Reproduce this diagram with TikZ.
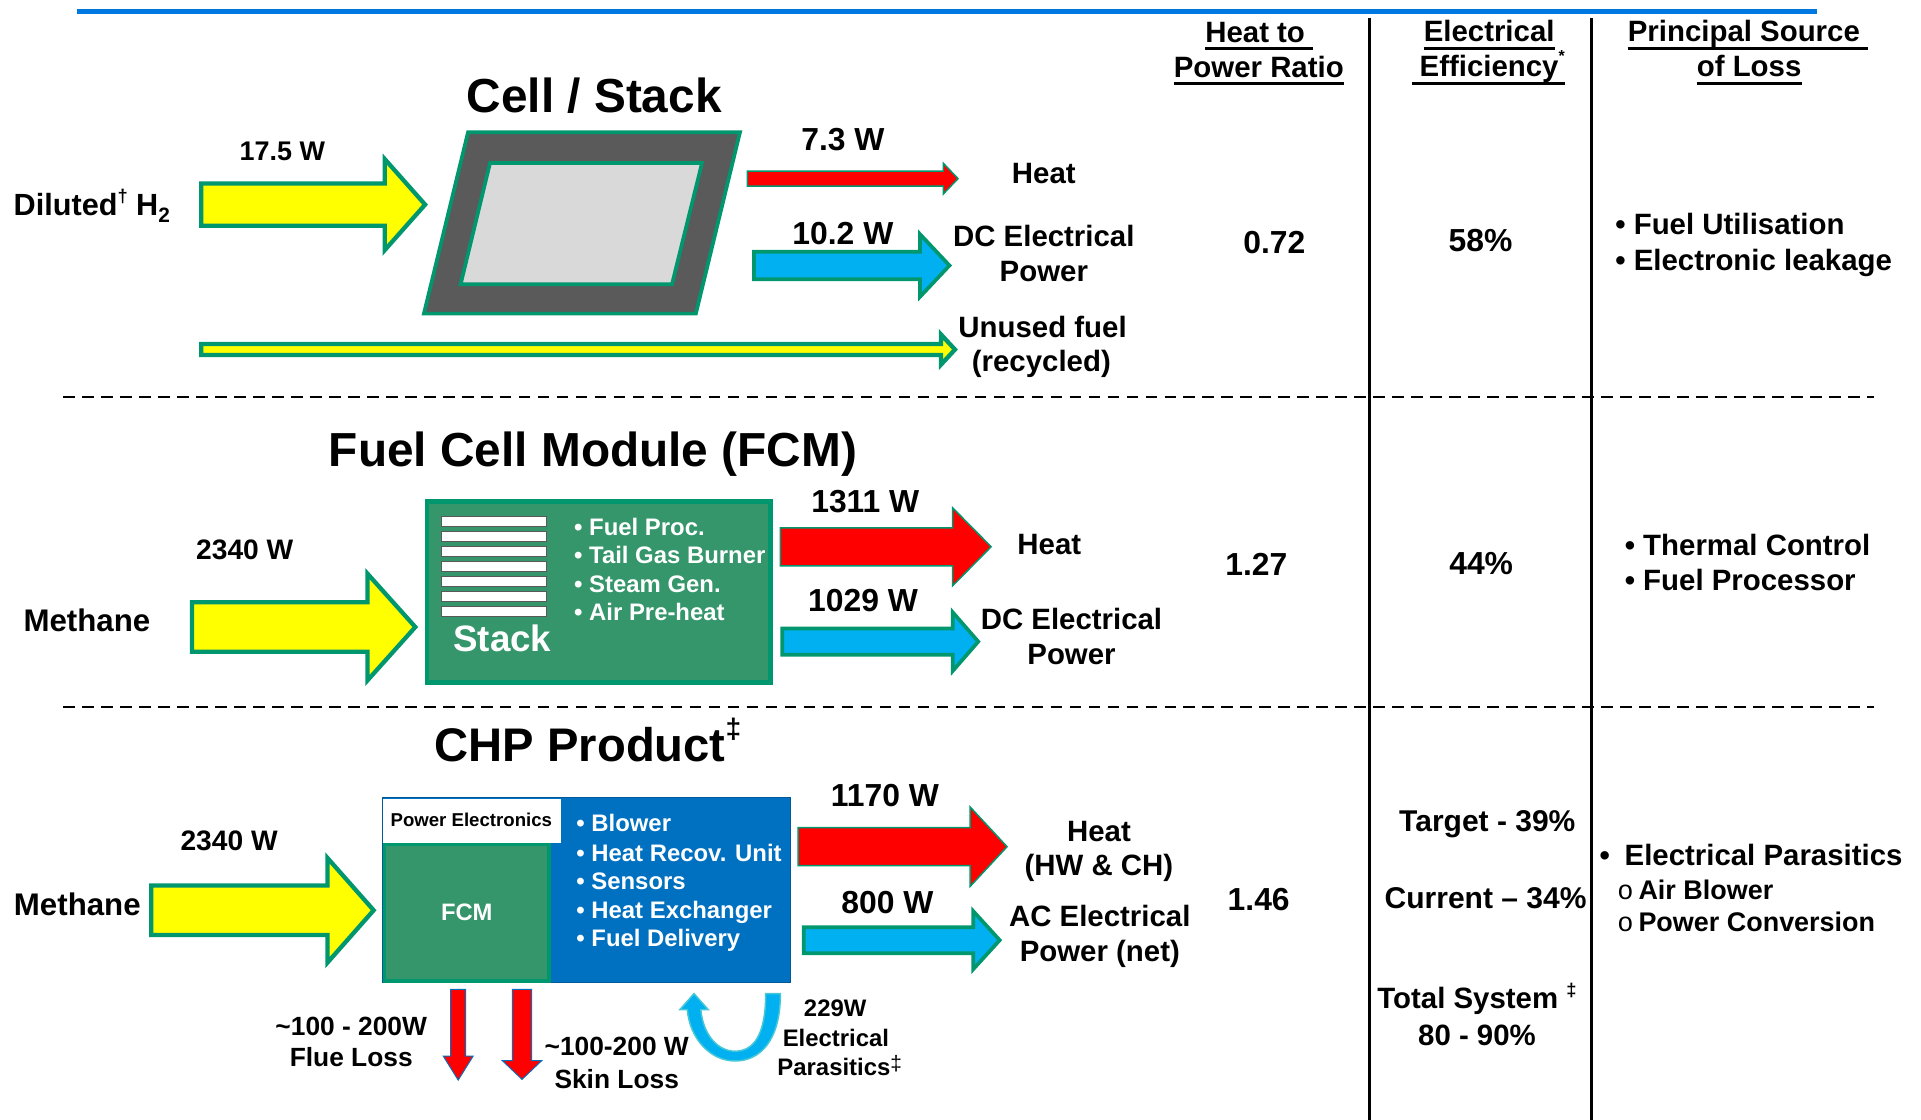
\documentclass[tikz,border=0pt]{standalone}
\usepackage{fontspec}
\setmainfont{Liberation Sans}
\newfontfamily\monofnt{Liberation Mono}
\definecolor{grn}{RGB}{0,150,110}
\definecolor{fcmg}{RGB}{52,150,106}
\definecolor{ylw}{RGB}{255,255,0}
\definecolor{rd}{RGB}{255,0,0}
\definecolor{cy}{RGB}{0,176,240}
\definecolor{cyline}{RGB}{70,200,215}
\definecolor{bbox}{RGB}{0,112,192}
\definecolor{topblue}{RGB}{0,120,225}
\definecolor{dgray}{RGB}{90,90,90}
\definecolor{lgray}{RGB}{217,217,217}
% right block arrow: style, x0, head base x, tip x, y centre, shaft half height, head half height
\newcommand\rarrow[7]{\draw[#1] (#2,#5-#6) -- (#3,#5-#6) -- (#3,#5-#7) -- (#4,#5) -- (#3,#5+#7) -- (#3,#5+#6) -- (#2,#5+#6) -- cycle;}
% down block arrow: style, x centre, top y, head base y, tip y, shaft half width, head half width
\newcommand\darrow[7]{\draw[#1] (#2-#6,#3) -- (#2+#6,#3) -- (#2+#6,#4) -- (#2+#7,#4) -- (#2,#5) -- (#2-#7,#4) -- (#2-#6,#4) -- cycle;}
\tikzset{
  fs/.style={font={\bfseries\fontsize{#1}{#1}\selectfont}},
  txt/.style={inner sep=0pt, anchor=base},
  lt/.style={inner sep=0pt, anchor=base west},
  yarrow/.style={fill=ylw, draw=grn, line width=3.5pt, line join=miter},
  barrow/.style={fill=cy, draw=grn, line width=3pt, line join=miter},
  rarrowst/.style={fill=rd, draw=grn, line width=1.2pt, line join=miter},
  darrowst/.style={fill=rd, draw=bbox, line width=0.8pt},
  uline/.style={line width=2.7pt},
  sepline/.style={line width=2.2pt, dash pattern=on 9.5pt off 6pt},
}
\begin{document}
\begin{tikzpicture}[x=1pt,y=-1pt]
\useasboundingbox (0,0) rectangle (1568,914);
% frame lines
\draw[topblue, line width=4pt] (62.5,9.5) -- (1483,9.5);
\draw[line width=2.5pt] (1117.5,15) -- (1117.5,914);
\draw[line width=2.5pt] (1299,15) -- (1299,914);
\draw[sepline] (51.5,324) -- (1530,324);
\draw[sepline] (51.5,577) -- (1530,577);

% headers
\node[txt,fs=24] (h1a) at (1024.5,34.3) {Heat to};
\node[txt,fs=24] (h1b) at (1027.5,63) {Power Ratio};
\node[txt,fs=24] (h2a) at (1215.5,34) {Electrical};
\node[txt,fs=24] (h2b) at (1218,62.6) {Efficiency\raisebox{0.5em}{\fontsize{13}{13}\selectfont *}};
\node[txt,fs=24] (h3a) at (1423.4,34) {Principal Source};
\node[txt,fs=24] (h3b) at (1427.7,62.6) {of Loss};
\draw[uline] ([yshift=-5.3pt]h1a.base west) -- ([yshift=-5.3pt,xshift=6.7pt]h1a.base east);
\draw[uline] ([yshift=-5pt]h1b.base west) -- ([yshift=-5pt]h1b.base east);
\draw[uline] ([yshift=-5.4pt]h2a.base west) -- ([yshift=-5.4pt]h2a.base east);
\draw[uline] ([yshift=-5.4pt,xshift=-6pt]h2b.base west) -- ([yshift=-5.4pt]h2b.base east);
\draw[uline] ([yshift=-5.4pt]h3a.base west) -- ([yshift=-5.4pt,xshift=6.7pt]h3a.base east);
\draw[uline] ([yshift=-5.4pt]h3b.base west) -- ([yshift=-5.4pt]h3b.base east);

% ===== Row 1: Cell / Stack =====
\node[txt,fs=39] (t1) at (485,92) {Cell / Stack};
\rarrow{yarrow}{164.3}{314}{347}{167}{17.2}{37.2}
\rarrow{yarrow}{164.3}{768}{779.5}{285.3}{4.5}{12.4}
\rarrow{rarrowst}{610}{770}{782}{145.8}{6.2}{12.5}
\rarrow{barrow}{615.5}{751}{775}{216.7}{11.2}{25.5}
\draw[fill=dgray, draw=grn, line width=3pt, line join=miter] (382,108) -- (604,108) -- (568,256) -- (346,256) -- cycle;
\draw[fill=lgray, draw=grn, line width=3pt, line join=miter] (400,133) -- (573,133) -- (548.5,232) -- (376,232) -- cycle;
\node[txt,fs=22] (w175) at (230.5,131) {17.5 W};
\node[lt,fs=25] (dil) at (11,175.5) {Diluted\raisebox{0.42em}{\fontsize{15}{15}\selectfont †} H\raisebox{-0.24em}{\fontsize{17}{17}\selectfont 2}};
\node[txt,fs=26] (w73) at (688,123) {7.3 W};
\node[txt,fs=26] (w102) at (688,199.4) {10.2 W};
\node[txt,fs=24] (heat1) at (852,149.6) {Heat};
\node[txt,fs=24] (dc1a) at (852,201.3) {DC Electrical};
\node[txt,fs=24] (dc1b) at (852,229.9) {Power};
\node[txt,fs=24] (un1a) at (851,275.3) {Unused fuel};
\node[txt,fs=24] (un1b) at (850,303.4) {(recycled)};
\node[txt,fs=26] (r1) at (1040.2,206.8) {0.72};
\node[txt,fs=26] (e1) at (1208.5,205.5) {58\%};
\node[lt,fs=24] (p1a) at (1318.3,191.8) {• Fuel Utilisation};
\node[lt,fs=24] (p1b) at (1318.3,220.4) {• Electronic leakage};

% ===== Row 2: Fuel Cell Module =====
\node[txt,fs=39] (t2) at (484,380.9) {Fuel Cell Module (FCM)};
\rarrow{yarrow}{156.7}{300}{339}{511.8}{20.2}{43.5}
\rarrow{rarrowst}{637}{777.6}{809}{446.3}{15.5}{31.8}
\rarrow{barrow}{638.5}{777.6}{798.5}{523.7}{10.7}{24}
\draw[fill=fcmg, draw=grn, line width=3.5pt] (348.3,409.3) rectangle (629,557);
\foreach \k in {0,...,6} {
  \draw[fill=white, draw=gray!70!black, line width=0.9pt] (360.4,421.7+12.25*\k) rectangle (445.8,430+12.25*\k);
}
\node[lt,fs=30,white] (stk) at (369.8,532) {Stack};
\node[lt,fs=19.5,white] (b2a) at (468.5,436.7) {• Fuel Proc.};
\node[lt,fs=19.5,white] (b2b) at (468.5,459.8) {• Tail Gas Burner};
\node[lt,fs=19.5,white] (b2c) at (468.5,483.4) {• Steam Gen.};
\node[lt,fs=19.5,white] (b2d) at (468.5,506.5) {• Air Pre-heat};
\node[txt,fs=23] (w2340a) at (199.8,456.6) {2340 W};
\node[txt,fs=25.5] (meth2) at (70.9,515.6) {Methane};
\node[txt,fs=26] (w1311) at (706.3,418.5) {1311 W};
\node[txt,fs=26] (w1029) at (704.5,499.3) {1029 W};
\node[txt,fs=24] (heat2) at (856.5,452.2) {Heat};
\node[txt,fs=24] (dc2a) at (874.6,513.7) {DC Electrical};
\node[txt,fs=24] (dc2b) at (874.6,542.3) {Power};
\node[txt,fs=26] (r2) at (1025.5,469.5) {1.27};
\node[txt,fs=26] (e2) at (1209,469) {44\%};
\node[lt,fs=24] (p2a) at (1326,453.5) {• Thermal Control};
\node[lt,fs=24] (p2b) at (1326,482) {• Fuel Processor};

% ===== Row 3: CHP Product =====
\node[lt,fs=38.5] (t3) at (354.7,621.7) {CHP Product\raisebox{0.5em}{\fontsize{23}{23}\selectfont ‡}};
\rarrow{yarrow}{123.5}{267.3}{305}{743}{20.2}{42.7}
\rarrow{rarrowst}{651.4}{791.9}{822}{691.1}{15.5}{32.4}
\rarrow{barrow}{656}{794.4}{816}{767.4}{10.6}{23.7}
\draw[fill=bbox, draw=bbox!80!black, line width=0.8pt] (312.3,651) rectangle (645.2,802);
\fill[white] (312.8,652.5) rectangle (457.8,687.8);
\draw[fill=fcmg, draw=grn, line width=3pt] (313.8,689.3) rectangle (448.2,800.5);
\node[txt,fs=15.2] (pe) at (384.7,674.8) {Power Electronics};
\node[txt,fs=19.4,white] (fcm) at (381,751.5) {FCM};
\node[lt,fs=19.5,white] (b3a) at (470.3,678.8) {• Blower};
\node[lt,fs=19.5,white] (b3b) at (470.3,702.8) {• Heat Recov. Unit};
\node[lt,fs=19.5,white] (b3c) at (470.3,726.3) {• Sensors};
\node[lt,fs=19.5,white] (b3d) at (470.3,749.6) {• Heat Exchanger};
\node[lt,fs=19.5,white] (b3e) at (470.3,772.7) {• Fuel Delivery};
\node[txt,fs=23] (w2340b) at (187,693.8) {2340 W};
\node[lt,fs=25.5] (meth3) at (11.2,746.9) {Methane};
\node[txt,fs=26] (w1170) at (722.3,658.4) {1170 W};
\node[txt,fs=26] (w800) at (724.4,745.5) {800 W};
\node[txt,fs=24] (heat3a) at (897,687) {Heat};
\node[txt,fs=24] (heat3b) at (897,714.8) {(HW \& CH)};
\node[txt,fs=24] (ac3a) at (897.7,756.4) {AC Electrical};
\node[txt,fs=24] (ac3b) at (897.7,785) {Power (net)};
\node[txt,fs=26] (r3) at (1027.4,743.4) {1.46};
\node[txt,fs=24.5] (e3a) at (1214,678.8) {Target - 39\%};
\node[txt,fs=24.5] (e3b) at (1212.6,741.4) {Current – 34\%};
\node[txt,fs=24] (e3c) at (1205.6,823) {Total System \raisebox{0.4em}{\fontsize{15}{15}\selectfont ‡}};
\node[txt,fs=24] (e3d) at (1205.6,853.5) {80 - 90\%};
\node[lt,fs=24] (p3a) at (1305.5,706.6) {•\hspace{12pt}Electrical Parasitics};
\node[lt,fs=22] (p3b) at (1320,734.6) {{\mdseries\monofnt o}\hspace{4pt}Air Blower};
\node[lt,fs=22] (p3c) at (1320,760) {{\mdseries\monofnt o}\hspace{4pt}Power Conversion};
% losses
\darrow{darrowst}{374}{807.6}{862}{881.6}{6.1}{12.2}
\darrow{darrowst}{426.1}{807.6}{865.8}{881}{7.9}{16}
\draw[fill=cy, draw=cyline, line width=1.2pt, line join=miter]
  (637,811) .. controls (637,850) and (620,866) .. (600,866)
  .. controls (580,866) and (563,848) .. (561,824)
  -- (555,824) -- (566.5,811) -- (578,824) -- (572,824)
  .. controls (574,845) and (586,858) .. (600,858)
  .. controls (615,858) and (625,845) .. (625,811) -- cycle;
\node[txt,fs=21.5] (flue1) at (286.7,844.8) {\textasciitilde100 - 200W};
\node[txt,fs=21.5] (flue2) at (286.7,870.7) {Flue Loss};
\node[txt,fs=21.5] (skin1) at (503.4,861.2) {\textasciitilde100-200 W};
\node[txt,fs=21.5] (skin2) at (503.4,888.4) {Skin Loss};
\node[txt,fs=19.5] (par1) at (681.7,829.9) {229W};
\node[txt,fs=19.5] (par2) at (682.3,854.4) {Electrical};
\node[txt,fs=19.5] (par3) at (685.4,877.5) {Parasitics\raisebox{0.2em}{\mdseries\fontsize{17}{17}\selectfont ‡}};
\end{tikzpicture}
\end{document}
